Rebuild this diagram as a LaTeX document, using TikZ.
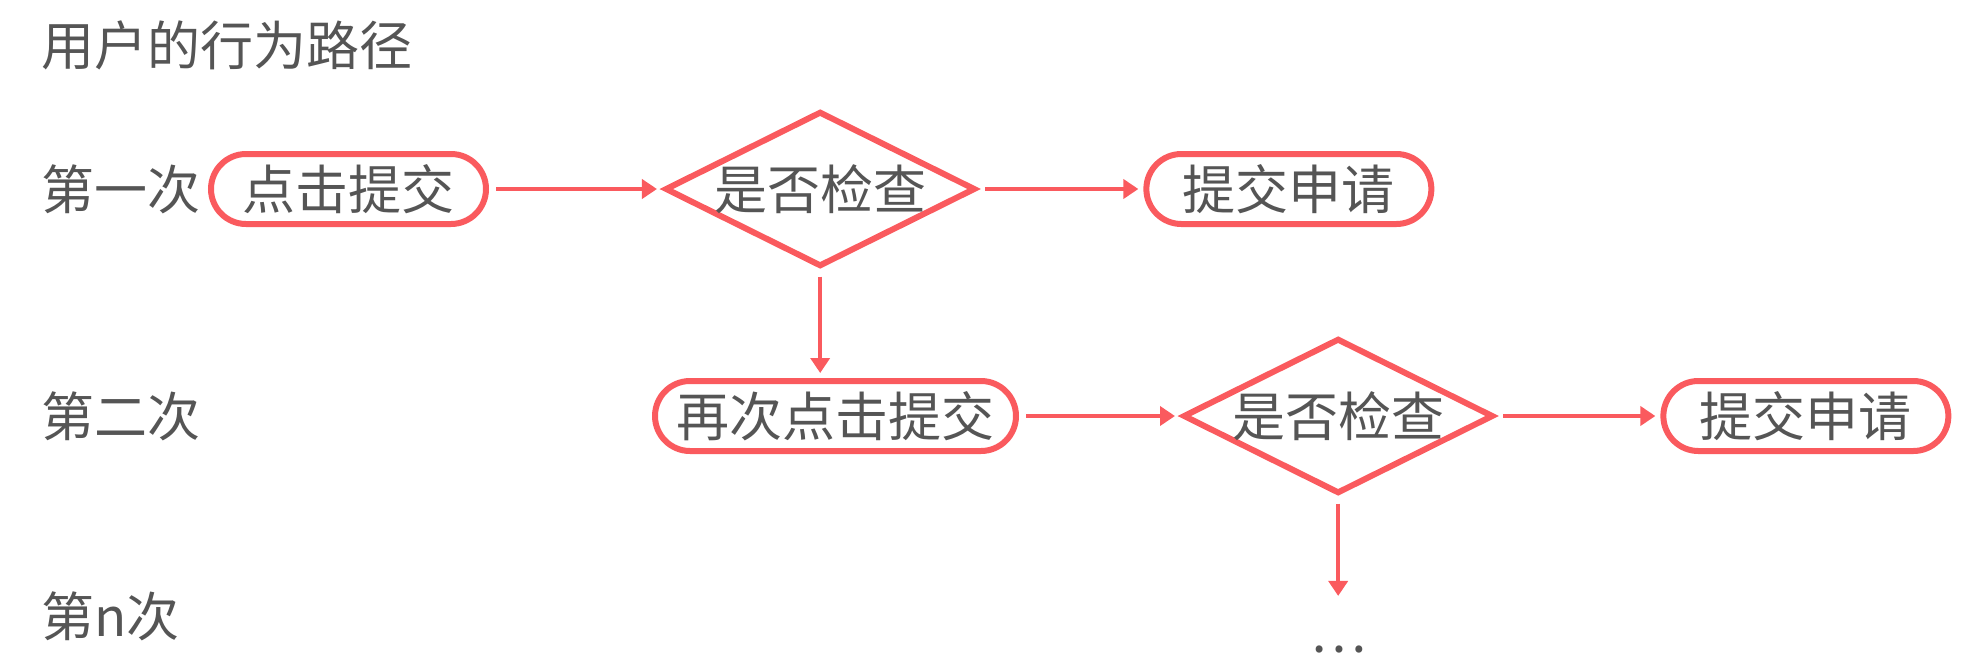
\documentclass[tikz,border=0pt]{standalone}
\usepackage{fontspec}
\setmainfont{Noto Sans CJK SC}
\usetikzlibrary{positioning}
\usetikzlibrary{shapes.geometric}
\usetikzlibrary{arrows.meta}
\definecolor{pathred}{HTML}{FA5A5E}
\definecolor{pathgray}{HTML}{555555}

\begin{document}
\begin{tikzpicture}[x=1pt, y=1pt,
    every node/.style={text=pathgray, font=\fontsize{26.5}{30}\selectfont},
    pill/.style={draw=pathred, line width=3pt, rounded corners=17.5pt, minimum height=35pt, inner xsep=8pt},
    check/.style={draw=pathred, line width=3pt, diamond, aspect=2, inner sep=0pt, minimum width=152pt, minimum height=76pt},
    flow/.style={draw=pathred, line width=2pt, -{Triangle[length=7.5pt,width=9.5pt]}, shorten <=3.5pt, shorten >=2.5pt}]
    \useasboundingbox (0,0) rectangle (989,-335);

    \node[anchor=west] (title) at (17,-22.5) {用户的行为路径};
    \node[anchor=west] (r1) at (17,-94.5) {第一次};
    \node[anchor=west] (r2) at (17,-208) {第二次};
    \node[anchor=west] (r3) at (17,-308) {第n次};

    % first try
    \node[pill, minimum width=137.5pt] (b1) at (174.25,-94.5) {点击提交};
    \node[check] (d1) [right=86.5pt of b1] {是否检查};
    \node[pill, minimum width=142.5pt] (s1) [right=82.5pt of d1] {提交申请};

    % second try
    \node[pill, minimum width=180.5pt] (b2) at (417.75,-208) {再次点击提交};
    \node[check] (d2) [right=80.5pt of b2] {是否检查};
    \node[pill, minimum width=142.5pt] (s2) [right=82pt of d2] {提交申请};
    \node[anchor=base, text height=22pt] (more) at (d2.center |- 0,-326) {…};

    \path
    (b1) edge[flow] (d1)
    (d1) edge[flow] (s1)
    (d1.south) edge[flow] (d1.south |- b2.north)
    (b2) edge[flow] (d2)
    (d2) edge[flow] (s2)
    (d2) edge[flow] (more);
\end{tikzpicture}
\end{document}
